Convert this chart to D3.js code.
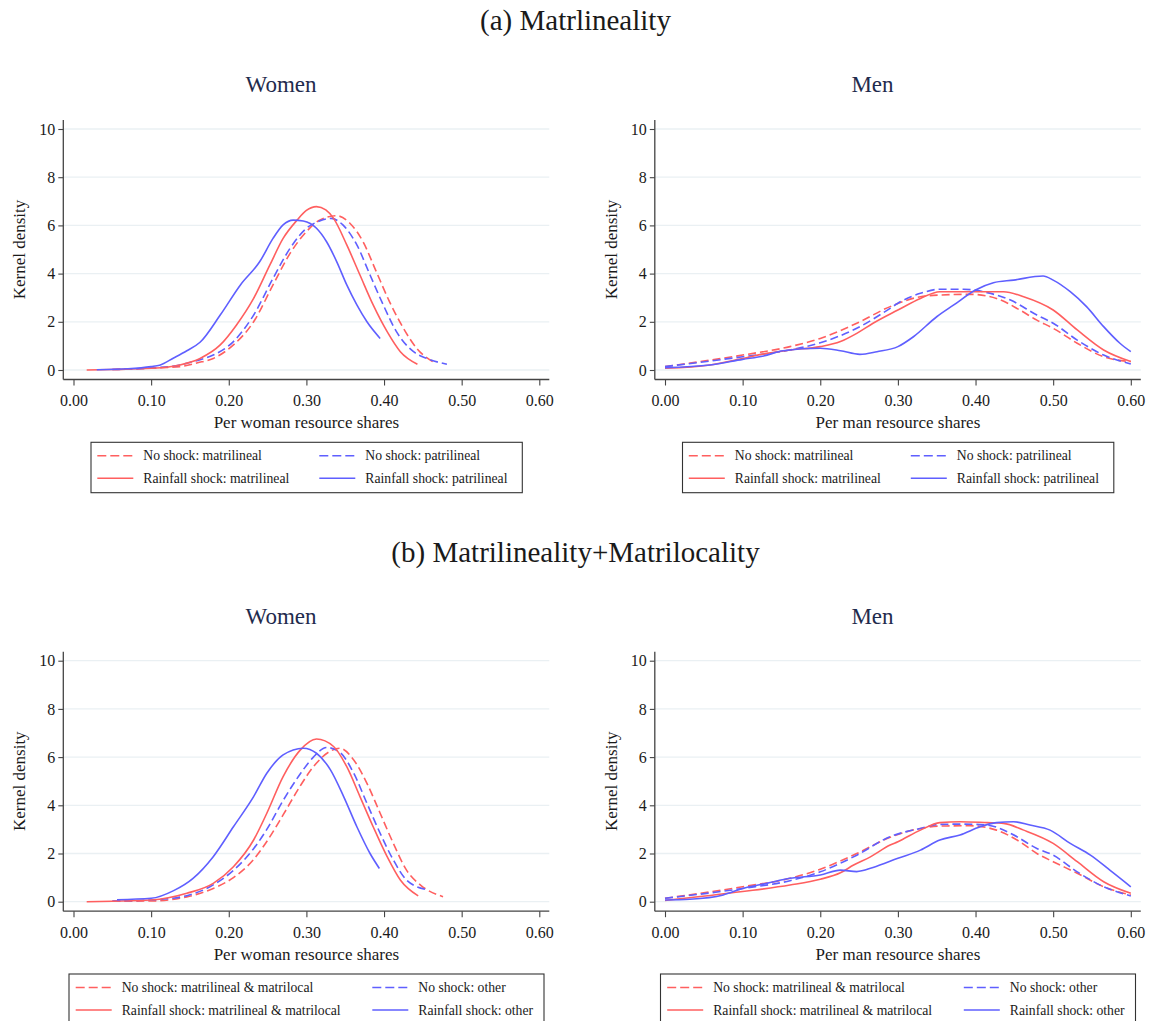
<!DOCTYPE html>
<html><head><meta charset="utf-8">
<script src="https://cdn.jsdelivr.net/npm/d3@7"></script>
<style>
body{margin:0;background:#fff}
text{font-family:"Liberation Serif","Times New Roman",serif;fill:#1a1a1a}
</style>
</head><body>
<svg id="c" width="1151" height="1021" xmlns="http://www.w3.org/2000/svg"></svg>
<script>
// ---------- DATA ----------
const xTicks = [0, 0.1, 0.2, 0.3, 0.4, 0.5, 0.6];
const yTicks = [0, 2, 4, 6, 8, 10];
const sectionTitles = ["(a) Matrlineality", "(b) Matrilineality+Matrilocality"];
const panelTitles = ["Women", "Men"];
const xTitles = ["Per woman resource shares", "Per man resource shares"];
const yTitle = "Kernel density";
const legendA = ["No shock: matrilineal", "No shock: patrilineal", "Rainfall shock: matrilineal", "Rainfall shock: patrilineal"];
const legendB = ["No shock: matrilineal & matrilocal", "No shock: other", "Rainfall shock: matrilineal & matrilocal", "Rainfall shock: other"];

// (a) Women
const aWomenNoShockMatri = [[0.05,0.02],[0.10,0.08],[0.137,0.14],[0.16,0.3],[0.180,0.48],[0.206,1.04],[0.232,2.0],[0.257,3.53],[0.279,4.84],[0.300,5.74],[0.317,6.22],[0.339,6.40],[0.356,6.09],[0.373,5.32],[0.390,4.08],[0.407,2.84],[0.425,1.73],[0.442,0.90],[0.465,0.30]];
const aWomenNoShockPatri = [[0.05,0.02],[0.10,0.08],[0.137,0.21],[0.16,0.4],[0.180,0.62],[0.206,1.18],[0.232,2.28],[0.257,3.80],[0.279,5.05],[0.300,5.88],[0.317,6.18],[0.332,6.29],[0.347,6.02],[0.365,5.19],[0.382,3.94],[0.399,2.70],[0.416,1.59],[0.438,0.76],[0.455,0.48],[0.481,0.24]];
const aWomenRainMatri = [[0.017,0.0],[0.05,0.02],[0.10,0.07],[0.137,0.21],[0.163,0.48],[0.189,1.04],[0.210,1.87],[0.232,2.97],[0.253,4.36],[0.270,5.46],[0.288,6.22],[0.300,6.62],[0.313,6.78],[0.325,6.64],[0.335,6.29],[0.352,5.19],[0.369,3.94],[0.386,2.70],[0.404,1.59],[0.421,0.76],[0.443,0.24]];
const aWomenRainPatri = [[0.03,0.01],[0.07,0.05],[0.10,0.14],[0.111,0.2],[0.129,0.5],[0.146,0.8],[0.163,1.15],[0.189,2.28],[0.215,3.53],[0.240,4.5],[0.257,5.46],[0.270,6.02],[0.283,6.22],[0.296,6.18],[0.313,5.88],[0.326,5.32],[0.339,4.5],[0.352,3.53],[0.365,2.7],[0.378,2.0],[0.395,1.31]];

// (a) Men
const aMenNoShockMatri = [[0.0,0.14],[0.10,0.62],[0.161,0.97],[0.20,1.31],[0.247,1.94],[0.29,2.63],[0.329,3.04],[0.354,3.11],[0.393,3.14],[0.427,2.97],[0.457,2.49],[0.479,2.07],[0.50,1.73],[0.531,1.11],[0.565,0.55],[0.60,0.35]];
const aMenNoShockPatri = [[0.0,0.14],[0.10,0.55],[0.161,0.83],[0.20,1.13],[0.247,1.73],[0.29,2.56],[0.30,2.77],[0.329,3.18],[0.354,3.35],[0.384,3.35],[0.415,3.21],[0.445,2.9],[0.479,2.28],[0.50,1.94],[0.531,1.24],[0.565,0.62],[0.60,0.25]];
const aMenRainMatri = [[0.0,0.07],[0.058,0.21],[0.10,0.48],[0.131,0.69],[0.161,0.83],[0.20,0.97],[0.226,1.18],[0.247,1.52],[0.268,1.94],[0.30,2.49],[0.329,2.97],[0.354,3.25],[0.393,3.25],[0.436,3.25],[0.462,3.04],[0.50,2.49],[0.531,1.66],[0.565,0.83],[0.60,0.35]];
const aMenRainPatri = [[0.0,0.1],[0.058,0.21],[0.10,0.44],[0.127,0.58],[0.152,0.80],[0.20,0.90],[0.226,0.80],[0.251,0.65],[0.273,0.76],[0.30,0.97],[0.32,1.38],[0.35,2.21],[0.372,2.70],[0.40,3.32],[0.423,3.62],[0.449,3.73],[0.487,3.90],[0.50,3.73],[0.522,3.25],[0.543,2.63],[0.565,1.80],[0.586,1.11],[0.60,0.76]];

// (b) Women
const bWomenNoShockMatri = [[0.05,0.02],[0.10,0.03],[0.146,0.2],[0.18,0.55],[0.206,1.0],[0.232,1.75],[0.249,2.5],[0.27,3.6],[0.292,4.8],[0.309,5.6],[0.331,6.25],[0.343,6.37],[0.361,5.88],[0.378,4.91],[0.395,3.67],[0.412,2.42],[0.429,1.31],[0.447,0.69],[0.476,0.21]];
const bWomenNoShockOther = [[0.05,0.03],[0.10,0.07],[0.146,0.25],[0.18,0.7],[0.206,1.3],[0.232,2.2],[0.249,3.0],[0.27,4.2],[0.292,5.3],[0.309,6.0],[0.326,6.40],[0.343,6.2],[0.361,5.33],[0.378,4.08],[0.395,2.84],[0.412,1.73],[0.429,0.90],[0.454,0.51]];
const bWomenRainMatri = [[0.017,0.0],[0.05,0.02],[0.10,0.07],[0.146,0.35],[0.18,0.76],[0.206,1.45],[0.232,2.56],[0.249,3.67],[0.27,5.19],[0.292,6.29],[0.313,6.75],[0.335,6.44],[0.352,5.60],[0.369,4.36],[0.386,3.11],[0.404,1.87],[0.421,0.90],[0.444,0.24]];
const bWomenRainOther = [[0.056,0.08],[0.10,0.14],[0.129,0.46],[0.154,0.97],[0.18,1.87],[0.206,3.11],[0.232,4.36],[0.249,5.33],[0.27,6.09],[0.296,6.37],[0.313,6.16],[0.331,5.47],[0.348,4.36],[0.365,3.11],[0.382,2.0],[0.394,1.38]];

// (b) Men
const bMenNoShockMatri = [[0.0,0.14],[0.10,0.62],[0.161,0.97],[0.20,1.35],[0.247,2.0],[0.29,2.67],[0.329,3.04],[0.354,3.14],[0.393,3.15],[0.427,2.97],[0.457,2.49],[0.479,2.0],[0.50,1.66],[0.531,1.18],[0.565,0.62],[0.60,0.28]];
const bMenNoShockOther = [[0.0,0.14],[0.10,0.55],[0.161,0.87],[0.20,1.24],[0.247,1.93],[0.29,2.7],[0.329,3.04],[0.354,3.21],[0.384,3.22],[0.415,3.18],[0.445,2.84],[0.479,2.21],[0.50,1.93],[0.531,1.24],[0.565,0.62],[0.60,0.24]];
const bMenRainMatri = [[0.0,0.05],[0.10,0.42],[0.161,0.69],[0.20,0.93],[0.226,1.2],[0.243,1.52],[0.264,1.85],[0.29,2.35],[0.30,2.49],[0.329,2.97],[0.354,3.28],[0.38,3.32],[0.415,3.28],[0.436,3.25],[0.462,2.97],[0.50,2.42],[0.531,1.66],[0.565,0.83],[0.60,0.35]];
const bMenRainOther = [[0.0,0.07],[0.032,0.1],[0.075,0.28],[0.10,0.55],[0.131,0.76],[0.161,0.97],[0.20,1.11],[0.226,1.31],[0.247,1.25],[0.268,1.42],[0.30,1.80],[0.329,2.14],[0.354,2.56],[0.38,2.77],[0.406,3.11],[0.427,3.28],[0.449,3.32],[0.47,3.18],[0.496,2.97],[0.522,2.42],[0.548,1.93],[0.573,1.31],[0.60,0.62]];

// ---------- DRAWING ----------
const RED = "#ff5f5f", BLUE = "#5f5fff";
const svg = d3.select("#c");
svg.append("rect").attr("width",1151).attr("height",1021).attr("fill","#fff");

const fmt = d3.format(".2f");

function drawPanel(x0, y0, title, xTitle, series, legendLabels, lg) {
  const x = d3.scaleLinear().domain([0, 0.6]).range([x0, x0 + 465.8]);
  const y = d3.scaleLinear().domain([0, 10]).range([y0, y0 - 241]);
  const g = svg.append("g");
  const axisY = y0 + 9.5, axisX = x0 - 10.2, rightEnd = x0 + 475.8;

  // gridlines
  g.append("g").selectAll("line").data(yTicks).join("line")
    .attr("x1", axisX).attr("x2", rightEnd)
    .attr("y1", d => y(d)).attr("y2", d => y(d))
    .attr("stroke", "#eaf0f3").attr("stroke-width", 1.3);

  // x axis
  const xa = g.append("g").attr("transform", `translate(0,${axisY})`)
    .call(d3.axisBottom(x).tickValues(xTicks).tickFormat(fmt).tickSize(6).tickPadding(9).tickSizeOuter(0));
  xa.select(".domain").remove();
  xa.selectAll(".tick line").attr("stroke", "#444").attr("stroke-width", 1.1);
  xa.selectAll(".tick text").attr("font-size", 16).attr("fill", "#1a1a1a")
    .attr("font-family", "Liberation Serif, serif");
  g.append("line").attr("x1", axisX).attr("x2", rightEnd).attr("y1", axisY).attr("y2", axisY)
    .attr("stroke", "#444").attr("stroke-width", 1.3);

  // y axis
  const ya = g.append("g").attr("transform", `translate(${axisX},0)`)
    .call(d3.axisLeft(y).tickValues(yTicks).tickSize(5).tickPadding(3).tickSizeOuter(0));
  ya.select(".domain").remove();
  ya.selectAll(".tick line").attr("stroke", "#444").attr("stroke-width", 1.1);
  ya.selectAll(".tick text").attr("font-size", 16).attr("fill", "#1a1a1a")
    .attr("font-family", "Liberation Serif, serif");
  g.append("line").attr("x1", axisX).attr("x2", axisX).attr("y1", axisY).attr("y2", y0 - 250)
    .attr("stroke", "#444").attr("stroke-width", 1.3);

  // titles
  g.append("text").attr("x", x0 + 207.5).attr("y", y0 - 278).attr("text-anchor", "middle")
    .attr("font-size", 23).style("fill", "#1f2b4d").text(title);
  g.append("text").attr("x", x(0.3)).attr("y", y0 + 58).attr("text-anchor", "middle")
    .attr("font-size", 17).text(xTitle);
  g.append("text").attr("transform", `translate(${x0 - 48.5},${y(5)}) rotate(-90)`)
    .attr("text-anchor", "middle").attr("font-size", 17).text(yTitle);

  // curves
  const line = d3.line().x(d => x(d[0])).y(d => y(d[1])).curve(d3.curveMonotoneX);
  series.forEach(s => {
    g.append("path").attr("d", line(s.data)).attr("fill", "none")
      .attr("stroke", s.color).attr("stroke-width", 1.6)
      .attr("stroke-dasharray", s.dash ? "8,4" : null);
  });

  // legend
  const L = g.append("g");
  L.append("rect").attr("x", lg.left).attr("y", lg.top).attr("width", lg.width).attr("height", 50.4)
    .attr("fill", "#fff").attr("stroke", "#333").attr("stroke-width", 1.1);
  const items = [
    {lab: legendLabels[0], c: RED, dash: true, col: 0, row: 0},
    {lab: legendLabels[1], c: BLUE, dash: true, col: 1, row: 0},
    {lab: legendLabels[2], c: RED, dash: false, col: 0, row: 1},
    {lab: legendLabels[3], c: BLUE, dash: false, col: 1, row: 1}
  ];
  items.forEach(it => {
    const lx = lg.left + (it.col ? lg.col2 : lg.col1);
    const ry = lg.top + (it.row ? 36 : 13.5);
    L.append("line").attr("x1", lx).attr("x2", lx + 36).attr("y1", ry).attr("y2", ry)
      .attr("stroke", it.c).attr("stroke-width", 1.6).attr("stroke-dasharray", it.dash ? "9,4" : null);
    L.append("text").attr("x", lx + 46).attr("y", ry + 4.6).attr("font-size", 13.7).text(it.lab);
  });
}

function seriesSet(nm, no, rm, ro) {
  return [
    {data: nm, color: RED, dash: true},
    {data: no, color: BLUE, dash: true},
    {data: rm, color: RED, dash: false},
    {data: ro, color: BLUE, dash: false}
  ];
}

// section titles
svg.append("text").attr("x", 575.5).attr("y", 30).attr("text-anchor", "middle").attr("font-size", 29).text(sectionTitles[0]);
svg.append("text").attr("x", 575.5).attr("y", 562).attr("text-anchor", "middle").attr("font-size", 29).text(sectionTitles[1]);

const dxMen = 591.5, dyB = 531.7;
const lgA = {width: 431.3, col1: 6.3, col2: 228.3};
const lgB = {width: 475, col1: 6.7, col2: 303.3};

drawPanel(73.5, 370, panelTitles[0], xTitles[0],
  seriesSet(aWomenNoShockMatri, aWomenNoShockPatri, aWomenRainMatri, aWomenRainPatri),
  legendA, Object.assign({left: 91, top: 442.3}, lgA));
drawPanel(73.5 + dxMen, 370, panelTitles[1], xTitles[1],
  seriesSet(aMenNoShockMatri, aMenNoShockPatri, aMenRainMatri, aMenRainPatri),
  legendA, Object.assign({left: 91 + dxMen, top: 442.3}, lgA));
drawPanel(73.5, 370 + dyB, panelTitles[0], xTitles[0],
  seriesSet(bWomenNoShockMatri, bWomenNoShockOther, bWomenRainMatri, bWomenRainOther),
  legendB, Object.assign({left: 69, top: 442.3 + dyB}, lgB));
drawPanel(73.5 + dxMen, 370 + dyB, panelTitles[1], xTitles[1],
  seriesSet(bMenNoShockMatri, bMenNoShockOther, bMenRainMatri, bMenRainOther),
  legendB, Object.assign({left: 69 + dxMen, top: 442.3 + dyB}, lgB));
</script>
</body></html>
